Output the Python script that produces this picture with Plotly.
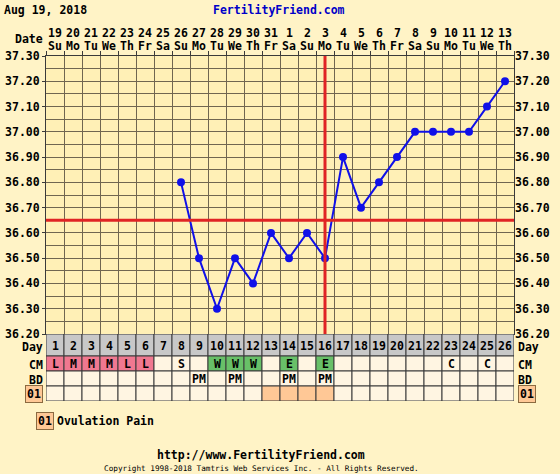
import plotly.graph_objects as go

# ---------------- data ----------------
days = list(range(1, 27))
dates = [19, 20, 21, 22, 23, 24, 25, 26, 27, 28, 29, 30, 31,
         1, 2, 3, 4, 5, 6, 7, 8, 9, 10, 11, 12, 13]
weekdays = ["Su", "Mo", "Tu", "We", "Th", "Fr", "Sa"] * 3 + ["Su", "Mo", "Tu", "We", "Th"]
temps = [None, None, None, None, None, None, None,
         36.80, 36.50, 36.30, 36.50, 36.40, 36.60, 36.50, 36.60, 36.50,
         36.90, 36.70, 36.80, 36.90, 37.00, 37.00, 37.00, 37.00, 37.10, 37.20]
cm = ["L", "M", "M", "M", "L", "L", "", "S", "", "W", "W", "W", "",
      "E", "", "E", "", "", "", "", "", "", "C", "", "C", ""]
bd = ["", "", "", "", "", "", "", "", "PM", "", "PM", "", "",
      "PM", "", "PM", "", "", "", "", "", "", "", "", "", ""]
ov_pain_days = [13, 14, 15, 16]
coverline = 36.65
ovulation_day = 16
y_ticks = [36.20, 36.30, 36.40, 36.50, 36.60, 36.70, 36.80, 36.90, 37.00, 37.10, 37.20, 37.30]

# ---------------- styling ----------------
W, H = 560, 474
FONT = "DejaVu Sans Mono"
PAGE_BG = "#FFF3C6"
PLOT_BG = "#FFF0B6"
GRID = "#706650"
BORDER = "#3A3A3A"
GRAY = "#C8C8C8"
CREAM = "#FFF5E2"
PINK = "#F07890"
GREEN = "#68C068"
PEACH = "#FFC896"
BLUE = "#1010E8"
RED = "#E02424"

def px_x(x):
    return x / W

def px_y(y):
    return 1 - y / H

plot_left, plot_right = 46, 514
plot_top, plot_bot = 56, 334
table_bot = 401
# table rows in pixel units (y2 axis, reversed)
rows = {"Day": (0, 22), "CM": (22, 37), "BD": (37, 52), "OV": (52, 67)}

fig = go.Figure()

fig.add_trace(go.Scatter(
    x=days, y=temps, mode="lines+markers",
    line=dict(color=BLUE, width=2),
    marker=dict(color=BLUE, size=8),
    connectgaps=False, hoverinfo="skip", showlegend=False,
    xaxis="x", yaxis="y"))

shapes = []
shapes.append(dict(type="line", xref="x", yref="y", x0=0.5, x1=26.5,
                   y0=coverline, y1=coverline, line=dict(color=RED, width=3)))
shapes.append(dict(type="line", xref="x", yref="y", x0=ovulation_day, x1=ovulation_day,
                   y0=36.20, y1=37.30, line=dict(color=RED, width=3)))

annotations = []

def cell(d, row, color):
    y0, y1 = rows[row]
    shapes.append(dict(type="rect", xref="x", yref="y2", x0=d - 0.5, x1=d + 0.5,
                       y0=y0, y1=y1, fillcolor=color,
                       line=dict(color=BORDER, width=1), layer="above"))

def txt(x, y, text, xref="x", yref="y2", size=11.5, color="black", bold=True,
        xanchor="center", yanchor="middle", **kw):
    kw.setdefault("borderpad", 0)
    annotations.append(dict(x=x, y=y, xref=xref, yref=yref, text=text, showarrow=False,
                            xanchor=xanchor, yanchor=yanchor,
                            font=dict(family=FONT, size=size, color=color,
                                      weight="bold" if bold else "normal"), **kw))

for i, d in enumerate(days):
    cell(d, "Day", GRAY)
    txt(d, 11.5, str(d))
    c = cm[i]
    col = PINK if c in ("L", "M") else GREEN if c in ("W", "E") else CREAM
    cell(d, "CM", col)
    if c:
        txt(d, 29.5, c)
    cell(d, "BD", CREAM)
    if bd[i]:
        txt(d, 44.5, bd[i])
    cell(d, "OV", PEACH if d in ov_pain_days else CREAM)
    txt(d, px_y(33), str(dates[i]), yref="paper")
    txt(d, px_y(46), weekdays[i], yref="paper")

# row labels
for lab, (y0, y1) in [("Day", rows["Day"]), ("CM", rows["CM"]), ("BD", rows["BD"])]:
    yy = (y0 + y1) / 2 + (2 if lab == "Day" else 1)
    txt(px_x(44), yy, lab, xref="paper", xanchor="right")
    txt(px_x(517), yy, lab, xref="paper", xanchor="left")
ov_mid = (rows["OV"][0] + rows["OV"][1]) / 2
for xa, anchor in [(px_x(43), "right"), (px_x(518), "left")]:
    txt(xa, ov_mid + 0.5, "01", xref="paper", xanchor=anchor,
        bgcolor=PEACH, bordercolor="#8B6A40", borderwidth=1, borderpad=1)

txt(px_x(44), px_y(39), "Date", xref="paper", yref="paper", xanchor="right")

# titles
txt(px_x(3), px_y(10), "Aug 19, 2018", xref="paper", yref="paper", xanchor="left")
txt(px_x(279), px_y(10), "FertilityFriend.com", xref="paper", yref="paper",
    color="#0000C8")

# legend
txt(px_x(36), px_y(421), "01", xref="paper", yref="paper", xanchor="left",
    bgcolor=PEACH, bordercolor="#8B6A40", borderwidth=1, borderpad=1)
txt(px_x(56), px_y(421), "Ovulation Pain", xref="paper", yref="paper", xanchor="left")

# footer
txt(px_x(261), px_y(455), "http://www.FertilityFriend.com", xref="paper", yref="paper")
txt(px_x(261), px_y(468), "Copyright 1998-2018 Tamtris Web Services Inc. - All Rights Reserved.",
    xref="paper", yref="paper", size=7.7, bold=False)

tickfont = dict(family=FONT, size=11.5, color="black", weight="bold")
y_dom = [px_y(plot_bot), px_y(plot_top)]
x_dom = [px_x(plot_left), px_x(plot_right)]

fig.update_layout(
    width=W, height=H, autosize=False,
    margin=dict(l=0, r=0, t=0, b=0, autoexpand=False),
    paper_bgcolor=PAGE_BG, plot_bgcolor=PLOT_BG,
    showlegend=False,
    xaxis=dict(domain=x_dom, range=[0.5, 26.5], anchor="y",
               tickvals=[d - 0.5 for d in days] + [26.5], showticklabels=False,
               showgrid=True, gridcolor=GRID, gridwidth=1, zeroline=False,
               showline=True, linecolor=BORDER, linewidth=1, mirror=True, fixedrange=True),
    xaxis2=dict(domain=x_dom, range=[0.5, 26.5], anchor="y", overlaying="x", side="top",
                tickvals=[d - 0.5 for d in days] + [26.5], ticktext=[""] * 27,
                ticks="outside", ticklen=4, tickcolor=BORDER, showgrid=False,
                zeroline=False, fixedrange=True),
    yaxis=dict(domain=y_dom, range=[36.20, 37.30], anchor="x",
               tickvals=y_ticks, ticktext=[f"{v:.2f}" for v in y_ticks],
               tickfont=tickfont, ticks="outside", ticklen=3, tickcolor=BORDER,
               showgrid=True, gridcolor=GRID, gridwidth=1, zeroline=False,
               minor=dict(tickvals=[round(v + 0.05, 2) for v in y_ticks[:-1]],
                          showgrid=True, gridcolor=GRID, gridwidth=1),
               showline=True, linecolor=BORDER, mirror=True, fixedrange=True),
    yaxis3=dict(domain=y_dom, range=[36.20, 37.30], anchor="x", overlaying="y",
                side="right", tickvals=y_ticks, ticktext=[f"{v:.2f}" for v in y_ticks],
                tickfont=tickfont, ticks="", showgrid=False, zeroline=False, fixedrange=True),
    yaxis2=dict(domain=[px_y(table_bot), px_y(plot_bot)], range=[67, 0], anchor="x",
                showticklabels=False, showgrid=False, zeroline=False, fixedrange=True),
    shapes=shapes, annotations=annotations,
)

fig.add_trace(go.Scatter(x=[None], y=[None], xaxis="x2", yaxis="y3", showlegend=False))
fig.add_trace(go.Scatter(x=[None], y=[None], xaxis="x", yaxis="y2", showlegend=False))

fig.write_html("out.html", config={"displayModeBar": False},
               post_script="document.body.style.margin='0';"
                           "document.body.style.background='" + PAGE_BG + "';"
                           "document.body.style.overflow='hidden';")
